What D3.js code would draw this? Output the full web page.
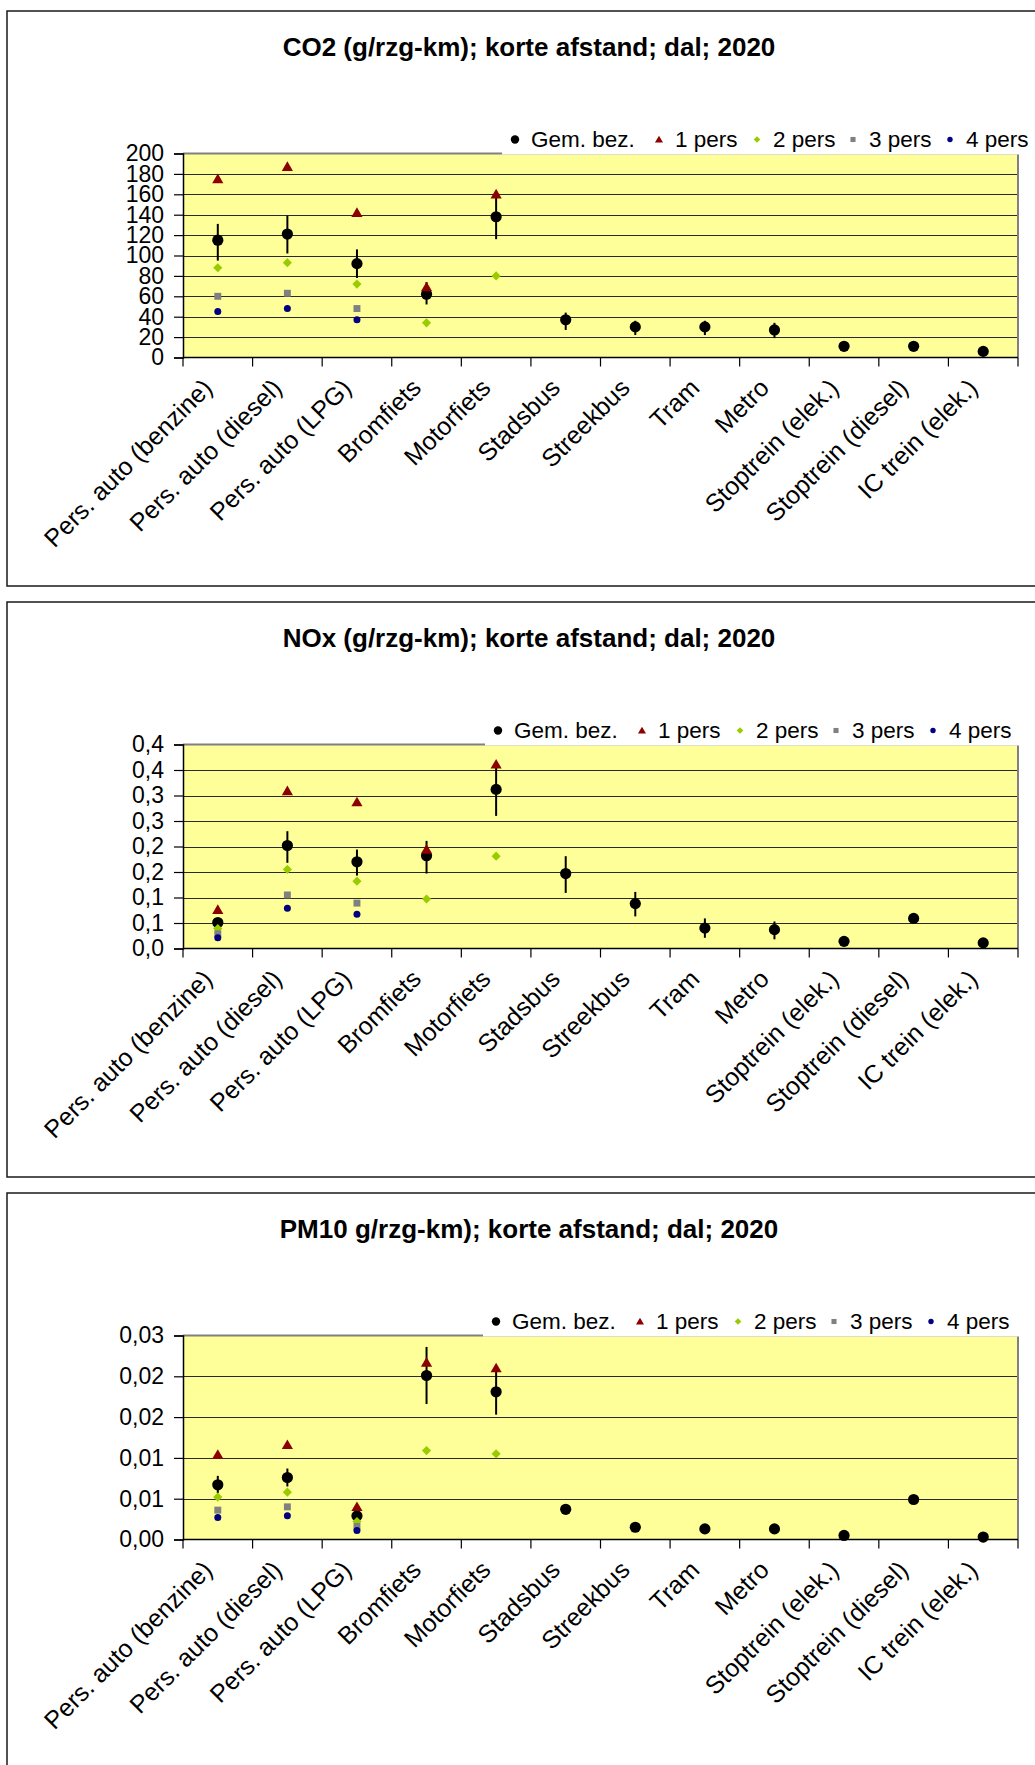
<!DOCTYPE html>
<html><head><meta charset="utf-8">
<script src="https://cdn.jsdelivr.net/npm/d3@7"></script>
<style>body{margin:0;background:#fff}svg{display:block}text{font-family:"Liberation Sans",Arial,sans-serif;fill:#000}</style>
</head><body><svg id="c" width="1035" height="1765"></svg>
<script>
// ---------- DATA ----------
const categories = ["Pers. auto (benzine)", "Pers. auto (diesel)", "Pers. auto (LPG)", "Bromfiets", "Motorfiets",
  "Stadsbus", "Streekbus", "Tram", "Metro", "Stoptrein (elek.)", "Stoptrein (diesel)", "IC trein (elek.)"];
const seriesNames = ["Gem. bez.", "1 pers", "2 pers", "3 pers", "4 pers"];
const titles = ["CO2 (g/rzg-km); korte afstand; dal; 2020", "NOx (g/rzg-km); korte afstand; dal; 2020", "PM10 g/rzg-km); korte afstand; dal; 2020"];

// CO2
const co2Gem     = [115, 121, 92, 62, 138, 37, 30, 30, 27, 11, 11, 6];
const co2ErrLow  = [95, 102, 78, 52, 116, 27, 22, 22, 19, null, null, null];
const co2ErrHigh = [131, 139, 106, 74, 160, 44, 36, 36, 34, null, null, null];
const co2P1 = [175, 187, 142, 69, 160, null, null, null, null, null, null, null];
const co2P2 = [88, 93, 72, 34, 80, null, null, null, null, null, null, null];
const co2P3 = [60, 63, 48, null, null, null, null, null, null, null, null, null];
const co2P4 = [45, 48, 37, null, null, null, null, null, null, null, null, null];
const co2Ticks = [0, 20, 40, 60, 80, 100, 120, 140, 160, 180, 200];
const co2TickLabels = ["0", "20", "40", "60", "80", "100", "120", "140", "160", "180", "200"];

// NOx
const noxGem     = [0.051, 0.202, 0.170, 0.182, 0.312, 0.147, 0.088, 0.040, 0.037, 0.014, 0.059, 0.011];
const noxErrLow  = [0.046, 0.168, 0.143, 0.147, 0.260, 0.109, 0.063, 0.021, 0.018, null, 0.053, null];
const noxErrHigh = [0.056, 0.230, 0.194, 0.211, 0.361, 0.181, 0.111, 0.059, 0.053, null, 0.065, null];
const noxP1 = [0.076, 0.309, 0.287, 0.194, 0.361, null, null, null, null, null, null, null];
const noxP2 = [0.039, 0.155, 0.132, 0.097, 0.181, null, null, null, null, null, null, null];
const noxP3 = [0.029, 0.105, 0.089, null, null, null, null, null, null, null, null, null];
const noxP4 = [0.021, 0.079, 0.067, null, null, null, null, null, null, null, null, null];
const noxTicks = [0, 0.05, 0.10, 0.15, 0.20, 0.25, 0.30, 0.35, 0.40];
const noxTickLabels = ["0,0", "0,1", "0,1", "0,2", "0,2", "0,3", "0,3", "0,4", "0,4"];

// PM10
const pmGem     = [0.0067, 0.0076, 0.0029, 0.0201, 0.0181, 0.0037, 0.0015, 0.0013, 0.0013, 0.0005, 0.0049, 0.0003];
const pmErrLow  = [0.0057, 0.0065, 0.0025, 0.0166, 0.0153, 0.0032, null, null, null, null, 0.0045, null];
const pmErrHigh = [0.0078, 0.0087, 0.0034, 0.0236, 0.0210, 0.0042, null, null, null, null, 0.0053, null];
const pmP1 = [0.0104, 0.0116, 0.0040, 0.0217, 0.0210, null, null, null, null, null, null, null];
const pmP2 = [0.0052, 0.0058, 0.0022, 0.0109, 0.0105, null, null, null, null, null, null, null];
const pmP3 = [0.0036, 0.0040, 0.0016, null, null, null, null, null, null, null, null, null];
const pmP4 = [0.0027, 0.0029, 0.0011, null, null, null, null, null, null, null, null, null];
const pmTicks = [0, 0.005, 0.010, 0.015, 0.020, 0.025];
const pmTickLabels = ["0,00", "0,01", "0,01", "0,02", "0,02", "0,03"];

// ---------- LAYOUT ----------
const charts = [
  {title: titles[0], gem: co2Gem, lo: co2ErrLow, hi: co2ErrHigh, p: [co2P1, co2P2, co2P3, co2P4], ticks: co2Ticks, tickLabels: co2TickLabels, top: 11, legendX: 502},
  {title: titles[1], gem: noxGem, lo: noxErrLow, hi: noxErrHigh, p: [noxP1, noxP2, noxP3, noxP4], ticks: noxTicks, tickLabels: noxTickLabels, top: 602, legendX: 485},
  {title: titles[2], gem: pmGem, lo: pmErrLow, hi: pmErrHigh, p: [pmP1, pmP2, pmP3, pmP4], ticks: pmTicks, tickLabels: pmTickLabels, top: 1193, legendX: 483}
];
const plotL = 183, plotR = 1018;
const colors = ["#000000", "#8C0000", "#99CC00", "#808080", "#000080"];

const svg = d3.select("#c");
svg.append("rect").attr("width", 1035).attr("height", 1765).attr("fill", "#fff");

function symbolPath(k, big) {
  if (k === 1) return d3.symbol(d3.symbolTriangle, big ? 54 : 28)();
  if (k === 2) return d3.symbol(d3.symbolSquare, big ? 42 : 22)();
  if (k === 3) return d3.symbol(d3.symbolSquare, big ? 48 : 26)();
  return null;
}

function drawMarker(g, k, cx, cy, big) {
  if (k === 0) {
    g.append("circle").attr("cx", cx).attr("cy", cy).attr("r", big ? 5.6 : 4.2).attr("fill", colors[0]);
  } else if (k === 4) {
    g.append("circle").attr("cx", cx).attr("cy", cy).attr("r", big ? 3.5 : 2.7).attr("fill", colors[4]);
  } else {
    const rot = k === 2 ? " rotate(45)" : "";
    const dy = k === 1 ? (big ? 1 : 0.8) : 0;
    g.append("path").attr("d", symbolPath(k, big)).attr("fill", colors[k])
      .attr("transform", `translate(${cx},${cy + dy})${rot}`);
  }
}

charts.forEach(ch => {
  const T = ch.top;
  const g = svg.append("g");
  g.append("rect").attr("x", 7).attr("y", T).attr("width", 1100).attr("height", 575)
    .attr("fill", "#fff").attr("stroke", "#1a1a1a").attr("stroke-width", 1.5);

  const y0 = T + 346.5, y1 = T + 142.5;
  const x = d3.scaleBand().domain(categories).range([plotL, plotR]).padding(0);
  const y = d3.scaleLinear().domain([0, ch.ticks[ch.ticks.length - 1]]).range([y0, y1]);

  // title
  g.append("text").attr("x", 529).attr("y", T + 36).attr("text-anchor", "middle")
    .attr("dominant-baseline", "central").attr("font-weight", "bold").attr("font-size", 26).text(ch.title);

  // plot area
  g.append("rect").attr("x", plotL).attr("y", y1).attr("width", plotR - plotL).attr("height", y0 - y1).attr("fill", "#FFFF99");
  g.selectAll(null).data(ch.ticks.slice(1, -1)).join("line")
    .attr("x1", plotL).attr("x2", plotR).attr("y1", d => Math.round(y(d)) + 0.5).attr("y2", d => Math.round(y(d)) + 0.5)
    .attr("stroke", "#2a2a2a").attr("stroke-width", 1.2);
  g.append("line").attr("x1", plotL).attr("x2", plotR).attr("y1", y1).attr("y2", y1).attr("stroke", "#808080").attr("stroke-width", 2);
  g.append("line").attr("x1", plotR).attr("x2", plotR).attr("y1", y1).attr("y2", y0).attr("stroke", "#808080").attr("stroke-width", 2);

  // y axis
  const ya = d3.axisLeft(y).tickValues(ch.ticks).tickFormat((d, i) => ch.tickLabels[i]).tickSize(9).tickPadding(10);
  const yg = g.append("g").attr("transform", `translate(${plotL},0)`).call(ya);
  yg.select(".domain").attr("stroke", "#000").attr("stroke-width", 1.5);
  yg.selectAll(".tick line").attr("stroke", "#000").attr("stroke-width", 1.2);
  yg.selectAll(".tick text").attr("font-size", 23).attr("font-family", '"Liberation Sans",Arial,sans-serif').attr("fill", "#000");

  // x axis
  g.append("line").attr("x1", plotL).attr("x2", plotR).attr("y1", y0).attr("y2", y0).attr("stroke", "#000").attr("stroke-width", 1.5);
  const bounds = categories.map(c => x(c)).concat([plotR]);
  g.selectAll(null).data(bounds).join("line")
    .attr("x1", d => d).attr("x2", d => d).attr("y1", y0).attr("y2", y0 + 9).attr("stroke", "#000").attr("stroke-width", 1.2);
  g.selectAll(null).data(categories).join("text")
    .attr("transform", c => `translate(${x(c) + x.bandwidth() / 2 - 4},${y0 + 32}) rotate(-45)`)
    .attr("text-anchor", "end").attr("font-size", 25).text(c => c);

  // error bars
  categories.forEach((c, i) => {
    if (ch.lo[i] == null) return;
    const cx = x(c) + x.bandwidth() / 2;
    g.append("line").attr("x1", cx).attr("x2", cx).attr("y1", y(ch.lo[i])).attr("y2", y(ch.hi[i]))
      .attr("stroke", "#000").attr("stroke-width", 2);
  });
  categories.forEach((c, i) => {
    const cx = x(c) + x.bandwidth() / 2;
    drawMarker(g, 0, cx, y(ch.gem[i]), true);
  });
  ch.p.forEach((arr, s) => {
    categories.forEach((c, i) => {
      if (arr[i] == null) return;
      const cx = x(c) + x.bandwidth() / 2;
      drawMarker(g, s + 1, cx, y(arr[i]), true);
    });
  });

  // legend
  g.append("rect").attr("x", ch.legendX).attr("y", y1 - 32).attr("width", 1100).attr("height", 33).attr("fill", "#fff");
  const offs = [0, 144, 242, 338, 435];
  const ly = y1 - 14;
  seriesNames.forEach((n, s) => {
    const mx = ch.legendX + 13 + offs[s];
    drawMarker(g, s, mx, ly, false);
    g.append("text").attr("x", mx + 16).attr("y", ly).attr("dominant-baseline", "central")
      .attr("font-size", 22.5).text(n);
  });
});
</script></body></html>
